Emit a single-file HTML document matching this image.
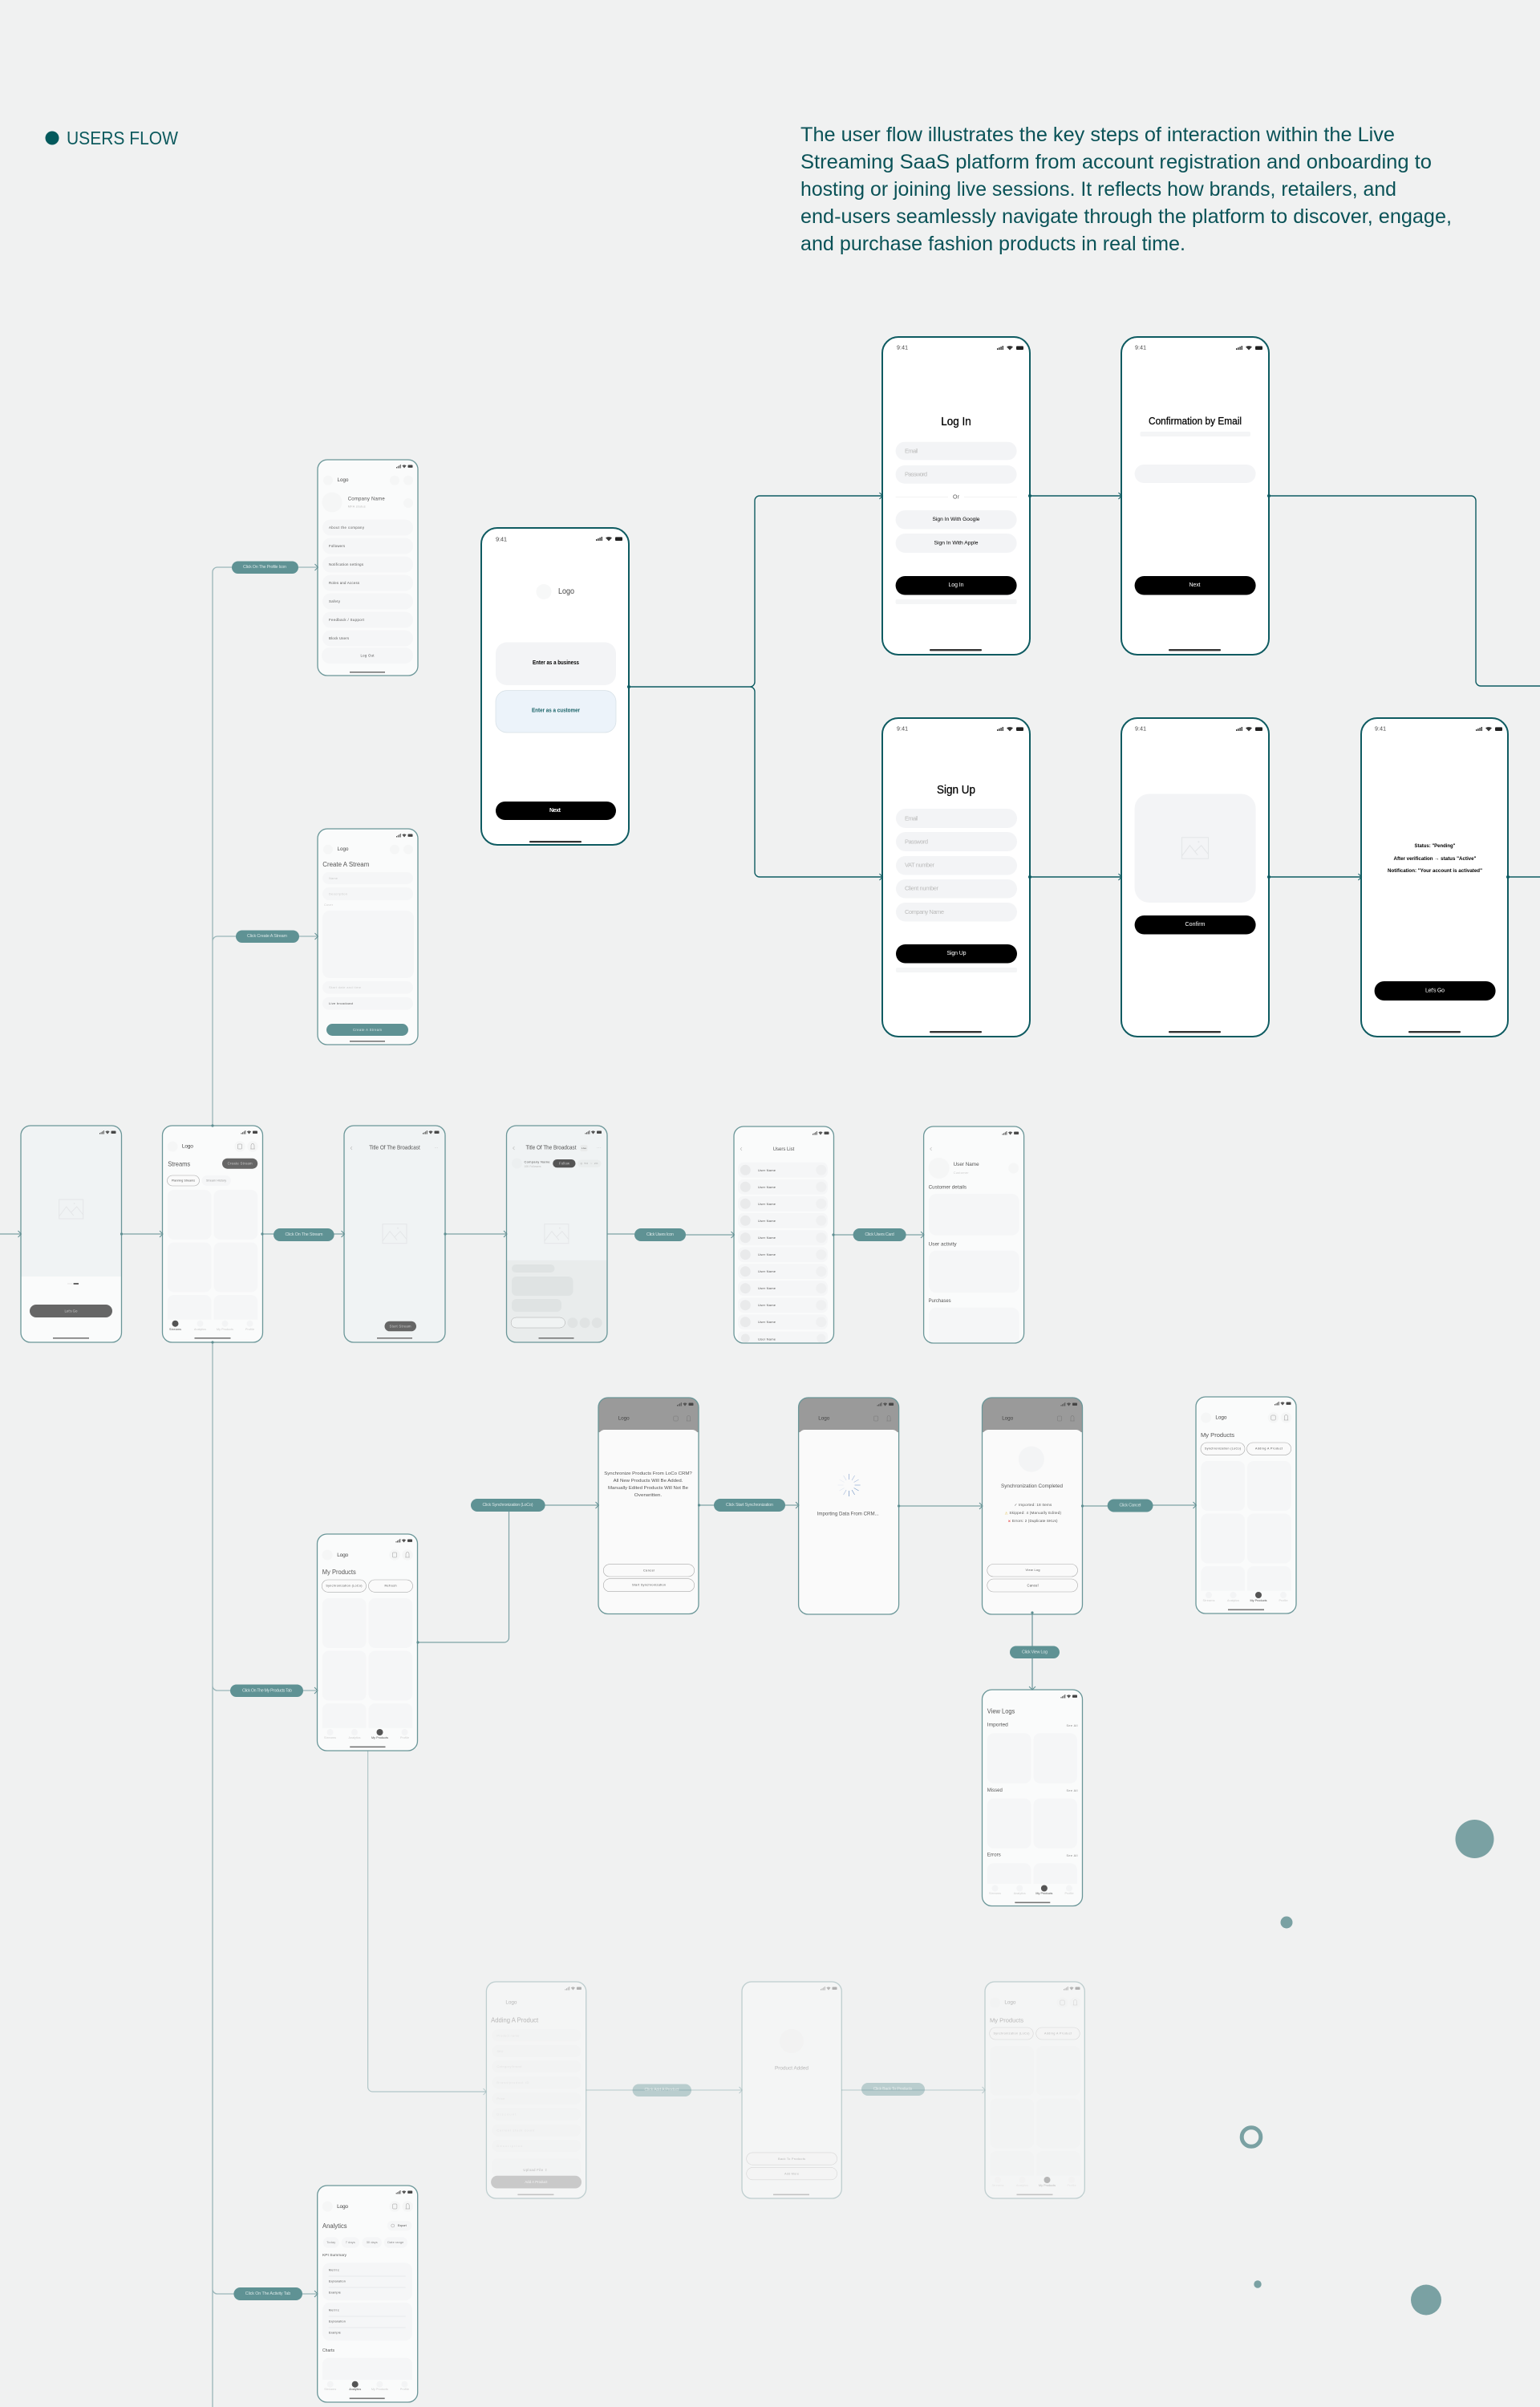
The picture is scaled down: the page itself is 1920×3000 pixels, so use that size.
<!DOCTYPE html>
<html lang="en"><head><meta charset="utf-8"><title>Users Flow</title>
<style>
html,body{margin:0;padding:0;background:#f0f1f1}
svg{display:block}
text{font-family:"Liberation Sans","DejaVu Sans",sans-serif;dominant-baseline:central;fill:#555}
.b{fill:#000}.w{fill:#fff}.p{fill:#d8e6e6}.l{fill:#bbb}.ll{fill:#ccc}.d{fill:#444}
.m{text-anchor:middle}
.c{fill:#f5f6f7}
.fr{fill:#fafbfb}
.st{fill:none;stroke:#6a9698;stroke-width:1.3}
.big{fill:none;stroke:#0e5b61;stroke-width:2}
.bf{fill:#fff}
.o{fill:#fafafa;stroke:#a9a9a9;stroke-width:.6}
.main{fill:none;stroke:#0e5c62;stroke-width:1.4}
.mu{fill:none;stroke:#7da2a5;stroke-width:1.2}
.pl{fill:#5f9294}
.chev{fill:none;stroke:#0e5c62;stroke-width:1}
.chm{fill:none;stroke:#5f8f92;stroke-width:1}
.hv{stroke:#000;stroke-width:.25}
</style></head>
<body>
<svg xmlns="http://www.w3.org/2000/svg" width="1920" height="3000" viewBox="0 0 1920 3000">
<defs>
<g id="sb"><rect x="0" y="3" width="1" height="1.5" fill="#555"/><rect x="1.6" y="2.2" width="1" height="2.3" fill="#555"/><rect x="3.2" y="1.2" width="1" height="3.3" fill="#555"/><rect x="4.8" y="0" width="1" height="4.5" fill="#555"/><path d="M7.4 1.4Q10 -.6 12.6 1.4L10 4.5Z" fill="#555"/><rect x="14.5" y=".5" width="6" height="3.4" rx=".8" fill="#444"/></g>
<g id="sbb"><rect x="0" y="3" width="1.4" height="2" fill="#333"/><rect x="2.2" y="2" width="1.4" height="3" fill="#333"/><rect x="4.4" y="1" width="1.4" height="4" fill="#333"/><rect x="6.6" y="0" width="1.4" height="5" fill="#333"/><path d="M12 1.2Q16 -1 20 1.2L16 5.4Z" fill="#333"/><rect x="24" y=".4" width="9" height="4.6" rx="1" fill="#222"/></g>
<g id="img"><rect x="-15" y="-12" width="30" height="24" fill="none" stroke="#e4e6e8" stroke-width="1"/><path d="M-15 9L-6 -3L3 8M0 4L7 -3L15 7" fill="none" stroke="#e4e6e8" stroke-width="1"/><circle cx="4" cy="-7" r=".9" fill="#e4e6e8"/></g>
<g id="hdr"><circle cx="12.6" cy="26" r="6.5" fill="#f5f6f6"/><circle cx="96.5" cy="26" r="6.8" fill="#f5f6f6"/><circle cx="112.5" cy="26" r="6.8" fill="#f5f6f6"/><rect x="93.8" y="23" width="5.4" height="6" rx="1" fill="none" stroke="#999" stroke-width=".5"/><path d="M109.8 29H115.2M110.5 29V24.5A2 2 0 0 1 114.5 24.5V29" fill="none" stroke="#999" stroke-width=".5"/></g>
<g id="hdd"><rect x="93.8" y="23" width="5.4" height="6" rx="1" fill="none" stroke="#777" stroke-width=".5"/><path d="M109.8 29H115.2M110.5 29V24.5A2 2 0 0 1 114.5 24.5V29" fill="none" stroke="#777" stroke-width=".5"/></g>
<g id="grid"><rect class="c" x="6.3" y="80" width="54.7" height="62" rx="8"/><rect class="c" x="64" y="80" width="54.7" height="62" rx="8"/><rect class="c" x="6.3" y="145.5" width="54.7" height="62" rx="8"/><rect class="c" x="64" y="145.5" width="54.7" height="62" rx="8"/><rect class="c" x="6.3" y="211" width="54.7" height="40" rx="8"/><rect class="c" x="64" y="211" width="54.7" height="40" rx="8"/><rect x="1" y="241.7" width="123" height="25" fill="#fafbfb"/></g>
<path id="dimt" d="M0 43V12A12 12 0 0 1 12 0H113A12 12 0 0 1 125 12V43Z" fill="#9a9a9a"/>
<path id="sheet" d="M0 48A8 8 0 0 1 8 40H117A8 8 0 0 1 125 48V258A12 12 0 0 1 113 270H12A12 12 0 0 1 0 258Z" fill="#fafafa"/>
<g id="spin"><line x1="0" y1="-7" x2="0" y2="-14" stroke="#8fa8d0" stroke-width=".7"/><line x1="3.5" y1="-6" x2="7" y2="-12" stroke="#a8bcdc" stroke-width=".7"/><line x1="6" y1="-3.5" x2="12" y2="-7" stroke="#a8bcdc" stroke-width=".7"/><line x1="7" y1="0" x2="14" y2="0" stroke="#8fa8d0" stroke-width=".7"/><line x1="6" y1="3.5" x2="12" y2="7" stroke="#7c9cc8" stroke-width=".7"/><line x1="3.5" y1="6" x2="7" y2="12" stroke="#7c9cc8" stroke-width=".7"/><line x1="0" y1="7" x2="0" y2="14" stroke="#6f8fc0" stroke-width=".7"/><line x1="-3.5" y1="6" x2="-7" y2="12" stroke="#a8bcdc" stroke-width=".7"/><line x1="-6" y1="3.5" x2="-12" y2="7" stroke="#dce4f0" stroke-width=".7"/><line x1="-7" y1="0" x2="-14" y2="0" stroke="#e6ebf3" stroke-width=".7"/><line x1="-6" y1="-3.5" x2="-12" y2="-7" stroke="#e6ebf3" stroke-width=".7"/><line x1="-3.5" y1="-6" x2="-7" y2="-12" stroke="#d0dbec" stroke-width=".7"/></g>
<path id="ah" class="chev" d="M-4 -4L0 0L-4 4"/>
<path id="am" class="chm" d="M-4 -4L0 0L-4 4"/>
</defs>

<rect width="1920" height="3000" fill="#f0f1f1"/>

<!-- heading -->
<circle cx="65" cy="172" r="8.5" fill="#03595c"/>
<text x="83" y="172" font-size="23" textLength="139" lengthAdjust="spacingAndGlyphs" style="fill:#0d5a5e">USERS FLOW</text>
<g font-size="25" style="font-weight:400">
<text x="998" y="168" textLength="741" lengthAdjust="spacingAndGlyphs" style="fill:#0a5257">The user flow illustrates the key steps of interaction within the Live</text>
<text x="998" y="202" textLength="787" lengthAdjust="spacingAndGlyphs" style="fill:#0a5257">Streaming SaaS platform from account registration and onboarding to</text>
<text x="998" y="236" textLength="743" lengthAdjust="spacingAndGlyphs" style="fill:#0a5257">hosting or joining live sessions. It reflects how brands, retailers, and</text>
<text x="998" y="270" textLength="812" lengthAdjust="spacingAndGlyphs" style="fill:#0a5257">end-users seamlessly navigate through the platform to discover, engage,</text>
<text x="998" y="304" textLength="480" lengthAdjust="spacingAndGlyphs" style="fill:#0a5257">and purchase fashion products in real time.</text>
</g>

<!-- decorative -->
<g fill="#7aa1a3">
<circle cx="1838.5" cy="2292" r="24"/><circle cx="1604" cy="2396" r="7.5"/><circle cx="1568" cy="2847" r="4.7"/><circle cx="1778" cy="2866.5" r="19"/>
</g>
<circle cx="1560" cy="2663.5" r="11.8" fill="none" stroke="#7aa1a3" stroke-width="5"/>

<!-- main connectors -->
<path class="main" d="M784 856H935a6 6 0 0 0 6-6V624a6 6 0 0 1 6-6H1100M935 856a6 6 0 0 1 6 6V1087a6 6 0 0 0 6 6H1100M1284 618H1398M1582 618H1834a6 6 0 0 1 6 6V849a6 6 0 0 0 6 6H1920M1284 1093H1398M1582 1093H1697M1880 1093H1920"/>

<!-- muted connectors -->
<path class="mu" d="M0 1538H26M151.5 1538H202.5M327.5 1538H429M555 1538H631.5M757 1538H791M855 1539H915M1039 1539H1151.6M520.6 2047H628.5a6 6 0 0 0 6-6V1876M679 1876H746M871.5 1876H995.6M1120.6 1877H1224.5M1349.5 1877H1381M1437 1876H1491"/>
<path fill="none" stroke="#9ab6b9" stroke-width="1.3" d="M265 1403V713a6 6 0 0 1 6-6H396M265 1173a6 6 0 0 1 6-6H396M265 1673V3000M265 2101a6 6 0 0 0 6 6H396M265 2853a6 6 0 0 0 6 6H396"/>
<path fill="none" stroke="#9ab6b9" stroke-width="1.9" d="M1287 2010V2106"/>
<path class="mu" opacity=".55" d="M458.6 2182V2601a6 6 0 0 0 6 6H606"/>
<path class="mu" opacity=".4" d="M730.7 2605H925M1049 2605H1228"/>

<!-- Big phone: business/customer -->
<g transform="translate(600,658)">
<rect class="bf" width="184" height="395" rx="20"/>
<text x="18" y="14" font-size="7.5" textLength="14" class="d">9:41</text><use href="#sbb" x="143" y="11"/>
<circle cx="78" cy="79.5" r="9.5" fill="#f7f8f8"/>
<text x="96" y="79.5" font-size="10" textLength="20" lengthAdjust="spacingAndGlyphs" class="d">Logo</text>
<rect x="18" y="142.5" width="150" height="53.5" rx="14" fill="#f3f4f6"/>
<text class="m b" x="93" y="168.7" font-size="7" font-weight="700" textLength="58" lengthAdjust="spacingAndGlyphs">Enter as a business</text>
<rect x="18" y="202.6" width="150" height="52.4" rx="14" fill="#ecf3fa" stroke="#d5dfe5" stroke-width=".7"/>
<text class="m" x="93" y="228" font-size="7" font-weight="700" textLength="60" lengthAdjust="spacingAndGlyphs" style="fill:#1a6368">Enter as a customer</text>
<rect x="18" y="341" width="150" height="23" rx="11.5" fill="#000"/>
<text class="m w" x="92" y="352.5" font-size="7" font-weight="700" textLength="14">Next</text>
<rect x="60" y="390" width="65" height="2.2" rx="1" fill="#333"/>
<rect class="big" width="184" height="395" rx="20"/>
</g>

<!-- Log In -->
<g transform="translate(1100,420)">
<rect class="bf" width="184" height="396" rx="20"/>
<text x="18" y="14" font-size="7" textLength="14" class="d">9:41</text><use href="#sbb" x="143" y="11"/>
<text class="m b hv" x="92" y="106" font-size="14.5" textLength="37.5" lengthAdjust="spacingAndGlyphs">Log In</text>
<rect x="16.6" y="130.7" width="151" height="22.7" rx="11.3" fill="#f3f4f6"/><text class="l" x="28" y="142" font-size="7.5" textLength="16">Email</text>
<rect x="16.6" y="160" width="151" height="22.7" rx="11.3" fill="#f3f4f6"/><text class="l" x="28" y="171" font-size="7.5" textLength="28">Password</text>
<path d="M16.6 199.5H82M102 199.5H168" stroke="#eeeeee" stroke-width=".8"/>
<text class="m" x="92" y="200" font-size="7" textLength="8">Or</text>
<rect x="16.6" y="216" width="151" height="23.5" rx="11.7" fill="#f3f4f6"/><text class="m b" x="92" y="227.5" font-size="6.8" textLength="59" lengthAdjust="spacingAndGlyphs">Sign In With Google</text>
<rect x="16.6" y="245" width="151" height="24" rx="12" fill="#f3f4f6"/><text class="m b" x="92" y="257" font-size="6.8" textLength="55" lengthAdjust="spacingAndGlyphs">Sign In With Apple</text>
<rect x="16.6" y="298" width="151" height="23.5" rx="11.7" fill="#000"/><text class="m w" x="92" y="309.5" font-size="7" textLength="19">Log In</text>
<rect x="16.6" y="327" width="151" height="6" rx="2" fill="#f4f5f6"/>
<rect x="59" y="389" width="65" height="2.4" rx="1" fill="#333"/>
<rect class="big" width="184" height="396" rx="20"/>
</g>

<!-- Confirmation -->
<g transform="translate(1398,420)">
<rect class="bf" width="184" height="396" rx="20"/>
<text x="17" y="14" font-size="7" textLength="14" class="d">9:41</text><use href="#sbb" x="143" y="11"/>
<text class="m b hv" x="92" y="105" font-size="12.5" textLength="116" lengthAdjust="spacingAndGlyphs">Confirmation by Email</text>
<rect x="23.5" y="118" width="137.5" height="6" rx="2" fill="#f4f5f6"/>
<rect x="16.6" y="159" width="151" height="23" rx="11.5" fill="#f3f4f6"/>
<rect x="16.6" y="298" width="151" height="23.5" rx="11.7" fill="#000"/><text class="m w" x="91.5" y="309.5" font-size="7" textLength="14">Next</text>
<rect x="59" y="389" width="65" height="2.4" rx="1" fill="#333"/>
<rect class="big" width="184" height="396" rx="20"/>
</g>

<!-- Sign Up -->
<g transform="translate(1100,895)">
<rect class="bf" width="184" height="397" rx="20"/>
<text x="18" y="14" font-size="7" textLength="14" class="d">9:41</text><use href="#sbb" x="143" y="11"/>
<text class="m b hv" x="92" y="90" font-size="14.5" textLength="48" lengthAdjust="spacingAndGlyphs">Sign Up</text>
<rect x="17" y="113" width="151" height="24" rx="12" fill="#f3f4f6"/><text class="l" x="28" y="125" font-size="7.5" textLength="16">Email</text>
<rect x="17" y="142" width="151" height="24" rx="12" fill="#f3f4f6"/><text class="l" x="28" y="154" font-size="7.5" textLength="29">Password</text>
<rect x="17" y="172" width="151" height="23.5" rx="11.7" fill="#f3f4f6"/><text class="l" x="28" y="183" font-size="7.5" textLength="37">VAT number</text>
<rect x="17" y="201" width="151" height="23.5" rx="11.7" fill="#f3f4f6"/><text class="l" x="28" y="212" font-size="7.5" textLength="42">Client number</text>
<rect x="17" y="230" width="151" height="23.5" rx="11.7" fill="#f3f4f6"/><text class="l" x="28" y="241.5" font-size="7.5" textLength="49">Company Name</text>
<rect x="17" y="282" width="151" height="23.5" rx="11.7" fill="#000"/><text class="m w" x="92.5" y="293.5" font-size="7" textLength="24">Sign Up</text>
<rect x="17" y="311" width="151" height="6" rx="2" fill="#f4f5f6"/>
<rect x="59" y="390" width="65" height="2.4" rx="1" fill="#333"/>
<rect class="big" width="184" height="397" rx="20"/>
</g>

<!-- Confirm -->
<g transform="translate(1398,895)">
<rect class="bf" width="184" height="397" rx="20"/>
<text x="17" y="14" font-size="7" textLength="14" class="d">9:41</text><use href="#sbb" x="143" y="11"/>
<rect x="16.6" y="94.5" width="151" height="135.5" rx="18" fill="#f3f4f6"/>
<use href="#img" transform="translate(92,162) scale(1.1)"/>
<rect x="16.6" y="246" width="151" height="23.5" rx="11.7" fill="#000"/><text class="m w" x="92" y="257.5" font-size="7" textLength="25">Confirm</text>
<rect x="59" y="390" width="65" height="2.4" rx="1" fill="#333"/>
<rect class="big" width="184" height="397" rx="20"/>
</g>

<!-- Status -->
<g transform="translate(1697,895)">
<rect class="bf" width="183" height="397" rx="20"/>
<text x="17" y="14" font-size="7" textLength="14" class="d">9:41</text><use href="#sbb" x="143" y="11"/>
<g font-size="6.4" font-weight="700">
<text class="m b" x="92" y="159.7" textLength="51" lengthAdjust="spacingAndGlyphs">Status: "Pending"</text>
<text class="m b" x="92" y="175.7" textLength="103" lengthAdjust="spacingAndGlyphs">After verification → status "Active"</text>
<text class="m b" x="92" y="190.7" textLength="118" lengthAdjust="spacingAndGlyphs">Notification: "Your account is activated"</text>
</g>
<rect x="16.6" y="328" width="151" height="24" rx="12" fill="#000"/><text class="m w" x="92" y="340" font-size="7" textLength="24">Let's Go</text>
<rect x="59" y="390" width="65" height="2.4" rx="1" fill="#333"/>
<rect class="big" width="183" height="397" rx="20"/>
</g>

<!-- Profile -->
<g transform="translate(396,573)">
<rect class="fr" width="125" height="269" rx="12"/>
<use href="#sb" x="98" y="6"/>
<circle cx="13" cy="25.7" r="6" fill="#f5f6f6"/><circle cx="96" cy="25.7" r="6" fill="#f5f6f6"/><circle cx="113" cy="25.7" r="6" fill="#f5f6f6"/>
<text x="24.5" y="25.7" font-size="6.2" textLength="14" class="d">Logo</text>
<circle cx="18" cy="53" r="12.5" fill="#f5f6f6"/>
<text x="37.7" y="49.5" font-size="6" textLength="46">Company Name</text>
<text class="l" x="37.7" y="58.6" font-size="3.8" textLength="22">MFA status</text>
<circle cx="113" cy="54" r="6" fill="#f5f6f6"/>
<g class="c">
<rect x="6" y="74.5" width="113" height="20" rx="10"/><rect x="6" y="97.5" width="113" height="20" rx="10"/><rect x="6" y="120.5" width="113" height="20" rx="10"/><rect x="6" y="143.5" width="113" height="20" rx="10"/><rect x="6" y="166.5" width="113" height="20" rx="10"/><rect x="6" y="189.5" width="113" height="20" rx="10"/><rect x="6" y="212.5" width="113" height="20" rx="10"/><rect x="5" y="234" width="114" height="20" rx="10"/>
</g>
<g font-size="4.3">
<text x="14" y="84.3" textLength="44">About the company</text>
<text x="14" y="107.6" textLength="20">Followers</text>
<text x="14" y="130.4" textLength="43">Notification settings</text>
<text x="14" y="153.6" textLength="38">Roles and Access</text>
<text x="14" y="176.4" textLength="14">Safety</text>
<text x="14" y="199.7" textLength="44">Feedback / Support</text>
<text x="14" y="222.5" textLength="25">Block Users</text>
<text class="m" x="62" y="244" textLength="17">Log Out</text>
</g>
<rect x="40" y="264" width="44" height="1.6" fill="#777"/>
<rect class="st" width="125" height="269" rx="12"/>
</g>

<!-- Create -->
<g transform="translate(396,1033)">
<rect class="fr" width="125" height="269" rx="12"/>
<use href="#sb" x="98" y="6"/>
<circle cx="13" cy="25.7" r="6" fill="#f5f6f6"/><circle cx="96" cy="25.7" r="6" fill="#f5f6f6"/><circle cx="113" cy="25.7" r="6" fill="#f5f6f6"/>
<text x="24.5" y="25.7" font-size="6.2" textLength="14" class="d">Logo</text>
<text x="6.3" y="44.6" font-size="8" textLength="58" lengthAdjust="spacingAndGlyphs">Create A Stream</text>
<g class="c"><rect x="6" y="54" width="113" height="15" rx="7.5"/><rect x="6" y="73" width="113" height="16" rx="8"/><rect x="6" y="102" width="114" height="84" rx="9"/><rect x="6" y="190" width="113" height="15.5" rx="7.7"/><rect x="6" y="210" width="113" height="15.5" rx="7.7"/></g>
<text class="ll" x="14" y="61.5" font-size="4" textLength="11">Name</text>
<text class="ll" x="14" y="81" font-size="4" textLength="23">Description</text>
<text class="ll" x="8" y="95" font-size="3.8" textLength="11">Cover</text>
<text class="ll" x="14" y="197.7" font-size="4" textLength="40">Start date and time</text>
<text x="14" y="217.7" font-size="4" textLength="30">Live broadcast</text>
<rect class="pl" x="11" y="243" width="102" height="15" rx="7.5"/>
<text class="m p" x="62" y="250.5" font-size="4.2" textLength="36">Create A Stream</text>
<rect x="40" y="264" width="44" height="1.6" fill="#777"/>
<rect class="st" width="125" height="269" rx="12"/>
</g>

<!-- Phone A onboarding -->
<g transform="translate(26,1403)">
<rect class="fr" width="125.5" height="270" rx="12"/>
<path d="M0 188V12A12 12 0 0 1 12 0H113.5A12 12 0 0 1 125.5 12V188Z" fill="#f0f3f4"/>
<use href="#sb" x="98" y="6"/>
<use href="#img" transform="translate(62.7,104)"/>
<rect x="58" y="196" width="6" height="2" fill="#f0f0f0"/><rect x="65.6" y="196" width="6.4" height="2" fill="#666"/>
<rect x="11" y="223" width="103" height="16" rx="8" fill="#666"/>
<text class="m ll" x="62.5" y="231" font-size="4.4" textLength="16">Let's Go</text>
<rect x="40" y="264" width="45" height="1.6" fill="#777"/>
<rect class="st" width="125.5" height="270" rx="12"/>
</g>

<!-- Streams -->
<g transform="translate(202.5,1403)">
<rect class="fr" width="125" height="270" rx="12"/>
<use href="#sb" x="98" y="6"/><use href="#hdr"/>
<text x="24.4" y="26" font-size="6.6" textLength="14" class="d">Logo</text>
<text x="6.7" y="47.7" font-size="8.5" textLength="28" lengthAdjust="spacingAndGlyphs">Streams</text>
<rect x="74.5" y="40.7" width="44.2" height="13" rx="6.5" fill="#666"/>
<text class="m ll" x="96.6" y="47" font-size="4.3" textLength="31">Create Stream</text>
<rect class="o" x="6" y="62" width="40" height="13" rx="6.5"/>
<text class="m" x="26" y="68.5" font-size="3.6" textLength="29">Planning Streams</text>
<rect class="c" x="49" y="62" width="36.4" height="13" rx="6.5"/>
<text class="m" x="67" y="68.5" font-size="3.6" textLength="25" style="fill:#999">Stream History</text>
<use href="#grid"/>
<circle cx="16" cy="246.7" r="4" fill="#555"/><circle cx="47" cy="246.7" r="4" fill="#f3f4f5"/><circle cx="78" cy="246.7" r="4" fill="#f3f4f5"/><circle cx="109" cy="246.7" r="4" fill="#f3f4f5"/>
<g font-size="3.7"><text class="m" x="16" y="254" textLength="15">Streams</text><text class="m ll" x="47" y="254" textLength="15">Analytics</text><text class="m ll" x="78" y="254" textLength="21">My Products</text><text class="m ll" x="109" y="254" textLength="11">Profile</text></g>
<rect x="40" y="264" width="45" height="1.6" fill="#777"/>
<rect class="st" width="125" height="270" rx="12"/>
</g>

<!-- Title Of Broadcast C -->
<g transform="translate(429,1403)">
<rect width="126" height="270" rx="12" fill="#f0f3f4"/>
<use href="#sb" x="98" y="6"/>
<path d="M10 26L8 28L10 30" fill="none" stroke="#bbb" stroke-width=".6"/>
<text class="m" x="63" y="28" font-size="7" textLength="63.5" lengthAdjust="spacingAndGlyphs">Title Of The Broadcast</text>
<text class="m l" x="115" y="28" font-size="5">···</text>
<use href="#img" transform="translate(63,134.7)"/>
<rect x="50.5" y="243.7" width="39.5" height="12.6" rx="6.3" fill="#666"/>
<text class="m ll" x="70" y="250" font-size="4.2" textLength="27">Start Stream</text>
<rect x="41" y="264" width="44" height="1.6" fill="#777"/>
<rect class="st" width="126" height="270" rx="12"/>
</g>

<!-- Title Of Broadcast D -->
<g transform="translate(631.5,1403)">
<rect width="125.5" height="270" rx="12" fill="#f0f3f4"/>
<path d="M0 167.7H125.5V258A12 12 0 0 1 113.5 270H12A12 12 0 0 1 0 258Z" fill="#e9ecec"/>
<use href="#sb" x="98" y="6"/>
<path d="M10 26L8 28L10 30" fill="none" stroke="#bbb" stroke-width=".6"/>
<text x="24" y="28" font-size="7" textLength="63" lengthAdjust="spacingAndGlyphs">Title Of The Broadcast</text>
<rect x="92" y="24" width="9" height="8" rx="2" fill="#e9ebeb"/><text class="m" x="96.5" y="28" font-size="3" textLength="6">Live</text>
<text class="m l" x="115" y="28" font-size="5">···</text>
<circle cx="13" cy="47" r="6.5" fill="#eceff0"/>
<text x="22" y="45" font-size="4" textLength="32">Company Name</text>
<text class="l" x="22" y="51" font-size="3.2" textLength="21">10K Followers</text>
<rect x="57.7" y="42" width="28.3" height="10.3" rx="5.1" fill="#555"/>
<text class="m ll" x="72" y="47.2" font-size="4.2" textLength="13">Follow</text>
<rect x="88.6" y="42.5" width="29.4" height="9.5" rx="4.7" fill="#eaeded"/>
<text x="92" y="47" font-size="3" textLength="22" style="fill:#999">◎ 5K  ♡ 2K</text>
<use href="#img" transform="translate(62.4,134.7)"/>
<rect x="6.5" y="173" width="53.5" height="10" rx="5" fill="#dfe3e3"/>
<rect x="6.5" y="188" width="76.5" height="24" rx="6" fill="#dfe3e3"/>
<rect x="6.5" y="216" width="62" height="16" rx="6" fill="#dfe3e3"/>
<rect x="5.6" y="239" width="67.4" height="13" rx="6.5" fill="#f0f3f3" stroke="#aaa" stroke-width=".5"/>
<circle cx="82.4" cy="245.7" r="6.5" fill="#e0e3e3"/><circle cx="97.6" cy="245.7" r="6.5" fill="#e0e3e3"/><circle cx="112.7" cy="245.7" r="6.5" fill="#e0e3e3"/>
<rect x="40" y="264" width="44" height="1.6" fill="#777"/>
<rect class="st" width="125.5" height="270" rx="12"/>
</g>

<!-- Users List -->
<g transform="translate(915,1404)">
<rect class="fr" width="124.5" height="270" rx="12"/>
<use href="#sb" x="98" y="6"/>
<path d="M10 26L8 28L10 30" fill="none" stroke="#bbb" stroke-width=".6"/>
<text class="m" x="62" y="28.3" font-size="6.5" textLength="26.5" lengthAdjust="spacingAndGlyphs">Users List</text>
<g class="c">
<rect x="5" y="44.8" width="112" height="19" rx="7"/><rect x="5" y="65.8" width="112" height="19" rx="7"/><rect x="5" y="86.8" width="112" height="19" rx="7"/><rect x="5" y="107.8" width="112" height="19" rx="7"/><rect x="5" y="129.2" width="112" height="19" rx="7"/><rect x="5" y="150.2" width="112" height="19" rx="7"/><rect x="5" y="171.2" width="112" height="19" rx="7"/><rect x="5" y="192.2" width="112" height="19" rx="7"/><rect x="5" y="213.2" width="112" height="19" rx="7"/><rect x="5" y="234.2" width="112" height="19" rx="7"/><rect x="5" y="255.5" width="112" height="14" rx="5"/>
</g>
<g fill="#e9eaeb">
<circle cx="14.3" cy="54.3" r="6.5"/><circle cx="14.3" cy="75.3" r="6.5"/><circle cx="14.3" cy="96.3" r="6.5"/><circle cx="14.3" cy="117.3" r="6.5"/><circle cx="14.3" cy="138.7" r="6.5"/><circle cx="14.3" cy="159.7" r="6.5"/><circle cx="14.3" cy="180.7" r="6.5"/><circle cx="14.3" cy="201.7" r="6.5"/><circle cx="14.3" cy="222.7" r="6.5"/><circle cx="14.3" cy="243.7" r="6.5"/><circle cx="14.3" cy="264" r="5.5"/>
</g>
<g fill="#eff0f1">
<circle cx="108.8" cy="54.3" r="6.5"/><circle cx="108.8" cy="75.3" r="6.5"/><circle cx="108.8" cy="96.3" r="6.5"/><circle cx="108.8" cy="117.3" r="6.5"/><circle cx="108.8" cy="138.7" r="6.5"/><circle cx="108.8" cy="159.7" r="6.5"/><circle cx="108.8" cy="180.7" r="6.5"/><circle cx="108.8" cy="201.7" r="6.5"/><circle cx="108.8" cy="222.7" r="6.5"/><circle cx="108.8" cy="243.7" r="6.5"/><circle cx="108.8" cy="264" r="5.5"/>
</g>
<g font-size="4">
<text x="30" y="54.3" textLength="22">User Name</text><text x="30" y="75.3" textLength="22">User Name</text><text x="30" y="96.3" textLength="22">User Name</text><text x="30" y="117.3" textLength="22">User Name</text><text x="30" y="138.7" textLength="22">User Name</text><text x="30" y="159.7" textLength="22">User Name</text><text x="30" y="180.7" textLength="22">User Name</text><text x="30" y="201.7" textLength="22">User Name</text><text x="30" y="222.7" textLength="22">User Name</text><text x="30" y="243.7" textLength="22">User Name</text><text x="30" y="265" textLength="22">User Name</text>
</g>
<rect class="st" width="124.5" height="270" rx="12"/>
</g>

<!-- User details -->
<g transform="translate(1151.6,1404)">
<rect class="fr" width="125" height="270" rx="12"/>
<use href="#sb" x="98" y="6"/>
<path d="M10 26L8 28L10 30" fill="none" stroke="#bbb" stroke-width=".6"/>
<circle cx="19" cy="52" r="13" fill="#f5f6f6"/>
<text x="37" y="48" font-size="6" textLength="32" lengthAdjust="spacingAndGlyphs">User Name</text>
<text class="ll" x="37" y="57.7" font-size="4" textLength="19">Customer</text>
<circle cx="112" cy="52" r="6.5" fill="#f5f6f6"/>
<text x="6" y="76.3" font-size="6" textLength="47.5" lengthAdjust="spacingAndGlyphs">Customer details</text>
<rect class="c" x="6.5" y="84" width="112.5" height="51.7" rx="9"/>
<text x="6" y="147.3" font-size="6" textLength="35" lengthAdjust="spacingAndGlyphs">User activity</text>
<rect class="c" x="6.5" y="154.7" width="112.5" height="52.6" rx="9"/>
<text x="6" y="218" font-size="6" textLength="28" lengthAdjust="spacingAndGlyphs">Purchases</text>
<path class="c" d="M6.5 234.7A9 9 0 0 1 15.5 225.7H110A9 9 0 0 1 119 234.7V269H6.5Z"/>
<rect class="st" width="125" height="270" rx="12"/>
</g>

<!-- Sync question -->
<g transform="translate(746,1742)">
<use href="#dimt"/><use href="#sheet"/>
<use href="#sb" x="98" y="6"/><use href="#hdd"/>
<text x="24.7" y="26" font-size="6.4" textLength="14" class="d">Logo</text>
<g font-size="5.5">
<text class="m" x="62" y="95" textLength="109.5" lengthAdjust="spacingAndGlyphs">Synchronize Products From LoCo CRM?</text>
<text class="m" x="62" y="104" textLength="86.8" lengthAdjust="spacingAndGlyphs">All New Products Will Be Added.</text>
<text class="m" x="62" y="113" textLength="100" lengthAdjust="spacingAndGlyphs">Manually Edited Products Will Not Be</text>
<text class="m" x="62" y="122" textLength="34.4" lengthAdjust="spacingAndGlyphs">Overwritten.</text>
</g>
<rect class="o" x="6.3" y="207.7" width="113.4" height="15.3" rx="7.6"/><text class="m" x="63" y="215.4" font-size="3.8" textLength="14">Cancel</text>
<rect class="o" x="6.3" y="225.7" width="113.4" height="16" rx="8"/><text class="m" x="63" y="233.7" font-size="3.8" textLength="42">Start Synchronization</text>
<rect class="st" width="125" height="269.5" rx="12"/>
</g>

<!-- Importing -->
<g transform="translate(995.6,1742)">
<use href="#dimt"/><use href="#sheet"/>
<use href="#sb" x="98" y="6"/><use href="#hdd"/>
<text x="24.7" y="26" font-size="6.4" textLength="14" class="d">Logo</text>
<use href="#spin" x="63" y="109"/>
<text class="m" x="61.6" y="145.7" font-size="6" textLength="77" lengthAdjust="spacingAndGlyphs">Importing Data From CRM...</text>
<rect class="st" width="125" height="270" rx="12"/>
</g>

<!-- Completed -->
<g transform="translate(1224.5,1742)">
<use href="#dimt"/><use href="#sheet"/>
<use href="#sb" x="98" y="6"/><use href="#hdd"/>
<text x="24.7" y="26" font-size="6.4" textLength="14" class="d">Logo</text>
<circle cx="61.4" cy="76.6" r="16" fill="#f3f4f5"/>
<text class="m" x="62" y="110.7" font-size="6.2" textLength="77" lengthAdjust="spacingAndGlyphs">Synchronization Completed</text>
<text x="40" y="133.4" font-size="4.5" textLength="46.7">✓ Imported: 18 Items</text>
<text x="28" y="143.5" font-size="4.5" textLength="70.5"><tspan style="fill:#e0b020">⚠</tspan> Skipped: 4 (Manually Edited)</text>
<text x="32" y="153.6" font-size="4.5" textLength="62"><tspan style="fill:#e02020;font-weight:700">✕</tspan> Errors: 2 (Duplicate SKUs)</text>
<rect class="o" x="6.3" y="207.5" width="112.7" height="15.5" rx="7.7"/><text class="m" x="63" y="215.2" font-size="3.8" textLength="18">View Log</text>
<rect class="o" x="6.3" y="226" width="112.7" height="16" rx="8"/><text class="m" x="63" y="234" font-size="4.2" textLength="14">Cancel</text>
<rect class="st" width="125" height="270" rx="12"/>
</g>

<!-- My Products right -->
<g transform="translate(1491,1741)">
<rect class="fr" width="125" height="270" rx="12"/>
<use href="#sb" x="98" y="6"/><use href="#hdr"/>
<text x="24.4" y="26" font-size="6.4" textLength="14" class="d">Logo</text>
<text x="6" y="47.7" font-size="7.5" textLength="42" lengthAdjust="spacingAndGlyphs">My Products</text>
<rect class="o" x="6" y="57" width="55" height="15.4" rx="7.7"/><text class="m" x="33.5" y="64.7" font-size="3.6" textLength="45">Synchronization (LoCo)</text>
<rect class="o" x="63.5" y="57" width="55.2" height="15.4" rx="7.7"/><text class="m" x="91" y="64.7" font-size="3.6" textLength="34">Adding A Product</text>
<use href="#grid"/>
<circle cx="16" cy="247" r="4" fill="#f3f4f5"/><circle cx="46.5" cy="247" r="4" fill="#f3f4f5"/><circle cx="78" cy="247" r="4" fill="#555"/><circle cx="109" cy="247" r="4" fill="#f3f4f5"/>
<g font-size="3.7"><text class="m ll" x="16" y="254" textLength="15">Streams</text><text class="m ll" x="46.5" y="254" textLength="15">Analytics</text><text class="m" x="78" y="254" textLength="21">My Products</text><text class="m ll" x="109" y="254" textLength="11">Profile</text></g>
<rect x="40" y="264.5" width="45" height="1.6" fill="#777"/>
<rect class="st" width="125" height="270" rx="12"/>
</g>

<!-- View Logs -->
<g transform="translate(1224.5,2106)">
<rect class="fr" width="125" height="269.5" rx="12"/>
<use href="#sb" x="98" y="6"/>
<text x="6.3" y="27" font-size="8" textLength="34.5" lengthAdjust="spacingAndGlyphs">View Logs</text>
<text x="6.3" y="44.6" font-size="6" textLength="26" lengthAdjust="spacingAndGlyphs">Imported</text><text x="105" y="45" font-size="3.8" textLength="14" style="fill:#888">See All</text>
<rect class="c" x="6.3" y="54.3" width="54.7" height="62.3" rx="8"/><rect class="c" x="64" y="54.3" width="54.3" height="62.3" rx="8"/>
<text x="6.3" y="125.8" font-size="6" textLength="19" lengthAdjust="spacingAndGlyphs">Missed</text><text x="105" y="126" font-size="3.8" textLength="14" style="fill:#888">See All</text>
<rect class="c" x="6.3" y="135.5" width="54.7" height="62.3" rx="8"/><rect class="c" x="64" y="135.5" width="54.3" height="62.3" rx="8"/>
<text x="6.3" y="206.6" font-size="6" textLength="17" lengthAdjust="spacingAndGlyphs">Errors</text><text x="105" y="207" font-size="3.8" textLength="14" style="fill:#888">See All</text>
<path class="c" d="M6.3 224A8 8 0 0 1 14.3 216.3H53A8 8 0 0 1 61 224V242H6.3Z"/><path class="c" d="M64 224A8 8 0 0 1 72 216.3H110A8 8 0 0 1 118.3 224V242H64Z"/>
<circle cx="16" cy="247.5" r="4" fill="#f3f4f5"/><circle cx="46.7" cy="247.5" r="4" fill="#f3f4f5"/><circle cx="77.4" cy="247.5" r="4" fill="#555"/><circle cx="108.5" cy="247.5" r="4" fill="#f3f4f5"/>
<g font-size="3.7"><text class="m ll" x="16" y="254" textLength="15">Streams</text><text class="m ll" x="46.7" y="254" textLength="15">Analytics</text><text class="m" x="77.4" y="254" textLength="21">My Products</text><text class="m ll" x="108.5" y="254" textLength="11">Profile</text></g>
<rect x="40.8" y="264.5" width="44" height="1.6" fill="#777"/>
<rect class="st" width="125" height="269.5" rx="12"/>
</g>

<!-- My Products left -->
<g transform="translate(395.5,1912)">
<rect class="fr" width="125" height="270" rx="12"/>
<use href="#sb" x="98" y="6"/><use href="#hdr"/>
<text x="24.7" y="26.3" font-size="6.6" textLength="14" class="d">Logo</text>
<text x="6.3" y="47.7" font-size="8" textLength="42" lengthAdjust="spacingAndGlyphs">My Products</text>
<rect class="o" x="5.8" y="57" width="55.2" height="15.3" rx="7.6"/><text class="m" x="33.4" y="64.7" font-size="3.6" textLength="45">Synchronization (LoCo)</text>
<rect class="o" x="64" y="57" width="55" height="15.3" rx="7.6"/><text class="m" x="91.5" y="64.7" font-size="3.6" textLength="15">Refresh</text>
<use href="#grid"/>
<circle cx="16" cy="247" r="4" fill="#f3f4f5"/><circle cx="46.5" cy="247" r="4" fill="#f3f4f5"/><circle cx="78" cy="247" r="4" fill="#555"/><circle cx="109" cy="247" r="4" fill="#f3f4f5"/>
<g font-size="3.7"><text class="m ll" x="16" y="254" textLength="15">Streams</text><text class="m ll" x="46.5" y="254" textLength="15">Analytics</text><text class="m" x="78" y="254" textLength="21">My Products</text><text class="m ll" x="109" y="254" textLength="11">Profile</text></g>
<rect x="40.7" y="264.5" width="44.3" height="1.6" fill="#777"/>
<rect class="st" width="125" height="270" rx="12"/>
</g>

<!-- Analytics -->
<g transform="translate(395.7,2724)">
<rect class="fr" width="125" height="270" rx="12"/>
<use href="#sb" x="98" y="6"/><use href="#hdr"/>
<text x="24.4" y="26.3" font-size="6.6" textLength="14" class="d">Logo</text>
<text x="6.3" y="50.7" font-size="8" textLength="30.6" lengthAdjust="spacingAndGlyphs">Analytics</text>
<rect class="c" x="87" y="43.7" width="30.7" height="12.6" rx="6.3"/>
<circle cx="94" cy="50" r="2" fill="none" stroke="#888" stroke-width=".4"/>
<text x="100" y="49.7" font-size="4" textLength="11">Export</text>
<rect class="c" x="7" y="64.2" width="20" height="13.6" rx="6.8"/><rect class="c" x="30" y="64.2" width="22.3" height="13.6" rx="6.8"/><rect class="c" x="55.7" y="64.2" width="24.6" height="13.6" rx="6.8"/><rect class="c" x="83" y="64.2" width="29.3" height="13.6" rx="6.8"/>
<g font-size="3.8"><text class="m" x="17" y="71" textLength="11" style="fill:#888">Today</text><text class="m" x="41" y="71" textLength="12" style="fill:#888">7 days</text><text class="m" x="68" y="71" textLength="14" style="fill:#888">30 days</text><text class="m" x="97.6" y="71" textLength="20" style="fill:#888">Date range</text></g>
<text x="6.3" y="87.3" font-size="4.8" textLength="30">KPI Summary</text>
<rect class="c" x="6.3" y="96.3" width="112" height="47" rx="9"/><rect class="c" x="6.3" y="145.7" width="112" height="47.6" rx="9"/>
<path d="M14 113H110M14 127H110M14 163H110M14 177H110" stroke="#dcdfe0" stroke-width=".5"/>
<g font-size="3.6"><text x="14" y="105.7" textLength="13">Metric</text><text x="14" y="119.7" textLength="21">Explanation</text><text x="14" y="133.3" textLength="15">Example</text><text x="14" y="155.7" textLength="13">Metric</text><text x="14" y="169.7" textLength="21">Explanation</text><text x="14" y="183.3" textLength="15">Example</text></g>
<text x="6.3" y="206" font-size="5" textLength="15">Charts</text>
<path class="c" d="M6.3 222A8 8 0 0 1 14 214.7H110A8 8 0 0 1 118.3 222V242H6.3Z"/>
<circle cx="16" cy="247.7" r="4" fill="#f3f4f5"/><circle cx="47" cy="247.7" r="4" fill="#555"/><circle cx="77.7" cy="247.7" r="4" fill="#f3f4f5"/><circle cx="108.7" cy="247.7" r="4" fill="#f3f4f5"/>
<g font-size="3.7"><text class="m ll" x="16" y="254" textLength="15">Streams</text><text class="m" x="47" y="254" textLength="15">Analytics</text><text class="m ll" x="77.7" y="254" textLength="21">My Products</text><text class="m ll" x="108.7" y="254" textLength="11">Profile</text></g>
<rect x="40" y="264.5" width="44" height="1.6" fill="#777"/>
<rect class="st" width="125" height="270" rx="12"/>
</g>

<!-- Faded: Adding A Product -->
<g opacity=".38">
<g transform="translate(606.4,2470)">
<rect class="fr" width="124.3" height="270" rx="12"/>
<use href="#sb" x="98" y="6"/>
<text x="24" y="26" font-size="6.4" textLength="14">Logo</text>
<text x="5.7" y="47.9" font-size="8" textLength="59" lengthAdjust="spacingAndGlyphs">Adding A Product</text>
<g class="c"><rect x="7" y="59.3" width="111" height="15" rx="7.5"/><rect x="7" y="79" width="111" height="15" rx="7.5"/><rect x="7" y="98.2" width="111" height="15" rx="7.5"/><rect x="7" y="118.2" width="111" height="15" rx="7.5"/><rect x="7" y="138" width="111" height="15" rx="7.5"/><rect x="7" y="157.5" width="111" height="15" rx="7.5"/><rect x="7" y="177.5" width="111" height="15" rx="7.5"/><rect x="7" y="197" width="111" height="15" rx="7.5"/><rect x="7" y="220" width="111" height="22" rx="7"/></g>
<g font-size="4" class="l"><text class="ll" x="13" y="66.8" textLength="28">Product name</text><text class="ll" x="13" y="86.4" textLength="8">SKU</text><text class="ll" x="13" y="105.7" textLength="31">Category/brand</text><text class="ll" x="13" y="125.7" textLength="40">Brand/product ID</text><text class="ll" x="13" y="145.4" textLength="10">Price</text><text class="ll" x="13" y="165" textLength="24">Discount</text><text class="ll" x="13" y="185" textLength="47">Current stock count</text><text class="ll" x="13" y="204.6" textLength="32">Description</text></g>
<text class="m" x="61" y="234.6" font-size="4.2" textLength="30">Upload File ⇧</text>
<rect x="5.7" y="241.8" width="112.9" height="15.7" rx="7.8" fill="#888"/>
<text class="m w" x="62" y="249.6" font-size="4.2" textLength="28">Add A Product</text>
<rect x="39" y="264.5" width="45" height="1.6" fill="#777"/>
<rect class="st" width="124.3" height="270" rx="12"/>
</g>
<g transform="translate(925,2470)">
<rect class="fr" width="124.3" height="270" rx="12"/>
<use href="#sb" x="98" y="6"/>
<circle cx="62" cy="74" r="15" fill="#f3f4f5"/>
<text class="m" x="62" y="108" font-size="6.5" textLength="42" lengthAdjust="spacingAndGlyphs">Product Added</text>
<rect class="o" x="5.7" y="212.9" width="112.9" height="15.3" rx="7.6"/><text class="m" x="62" y="220.6" font-size="3.9" textLength="34">Back To Products</text>
<rect class="o" x="5.7" y="231.4" width="112.9" height="15.4" rx="7.7"/><text class="m" x="62" y="239" font-size="3.9" textLength="18">Add More</text>
<rect x="39" y="264.5" width="45" height="1.6" fill="#777"/>
<rect class="st" width="124.3" height="270" rx="12"/>
</g>
<g transform="translate(1228,2470)">
<rect class="fr" width="124.3" height="270" rx="12"/>
<use href="#sb" x="98" y="6"/><use href="#hdr"/>
<text x="24.4" y="26" font-size="6.4" textLength="14">Logo</text>
<text x="6" y="47.9" font-size="7.6" textLength="42" lengthAdjust="spacingAndGlyphs">My Products</text>
<rect class="o" x="5.7" y="57" width="54.5" height="15" rx="7.5"/><text class="m" x="33" y="64.5" font-size="3.6" textLength="45">Synchronization (LoCo)</text>
<rect class="o" x="63.7" y="57" width="54.5" height="15" rx="7.5"/><text class="m" x="91" y="64.5" font-size="3.6" textLength="34">Adding A Product</text>
<use href="#grid"/>
<circle cx="16" cy="247" r="4" fill="#f3f4f5"/><circle cx="46.5" cy="247" r="4" fill="#f3f4f5"/><circle cx="77.5" cy="247" r="4" fill="#555"/><circle cx="108" cy="247" r="4" fill="#f3f4f5"/>
<g font-size="3.7"><text class="m ll" x="16" y="254" textLength="15">Streams</text><text class="m ll" x="46.5" y="254" textLength="15">Analytics</text><text class="m" x="77.5" y="254" textLength="21">My Products</text><text class="m ll" x="108" y="254" textLength="11">Profile</text></g>
<rect x="39.5" y="264.5" width="45" height="1.6" fill="#777"/>
<rect class="st" width="124.3" height="270" rx="12"/>
</g>
<rect class="pl" x="788.6" y="2597.5" width="73.4" height="15.5" rx="7.7"/><text class="m p" x="825" y="2605.2" font-size="5.3" textLength="43">Click Add A Product</text>
<rect class="pl" x="1074" y="2596" width="79" height="16" rx="8"/><text class="m p" x="1113" y="2604" font-size="5.3" textLength="48.6">Click Back To Products</text>
<use href="#am" x="925.5" y="2605"/><use href="#am" x="1228.5" y="2605"/><use href="#am" x="606.5" y="2607"/>
</g>

<!-- Pills -->
<g font-size="5.4">
<rect class="pl" x="289" y="699.5" width="83" height="15.5" rx="7.7"/><text class="m p" x="330" y="707.2" textLength="54">Click On The Profile Icon</text>
<rect class="pl" x="294" y="1159.5" width="79" height="15.5" rx="7.7"/><text class="m p" x="333" y="1167.2" textLength="50">Click Create A Stream</text>
<rect class="pl" x="341" y="1531" width="75.6" height="16" rx="8"/><text class="m p" x="379" y="1539" textLength="47">Click On The Stream</text>
<rect class="pl" x="791" y="1531" width="64" height="16" rx="8"/><text class="m p" x="823" y="1539" textLength="34">Click Users Icon</text>
<rect class="pl" x="1063.6" y="1531" width="66" height="16" rx="8"/><text class="m p" x="1096.6" y="1539" textLength="36.4">Click Users Card</text>
<rect class="pl" x="587" y="1868" width="92.6" height="16" rx="8"/><text class="m p" x="633" y="1876" textLength="63">Click Synchronization (LoCo)</text>
<rect class="pl" x="890" y="1868" width="89" height="16" rx="8"/><text class="m p" x="934.5" y="1876" textLength="59">Click Start Synchronization</text>
<rect class="pl" x="1380.7" y="1868.5" width="56.8" height="16" rx="8"/><text class="m p" x="1409" y="1876.5" textLength="27">Click Cancel</text>
<rect class="pl" x="1259" y="2051.5" width="62" height="15.5" rx="7.7"/><text class="m p" x="1290" y="2059.3" textLength="32">Click View Log</text>
<rect class="pl" x="287" y="2099.5" width="91" height="15.5" rx="7.7"/><text class="m p" x="333" y="2107.3" textLength="62">Click On The My Products Tab</text>
<rect class="pl" x="291.4" y="2851" width="85.6" height="16" rx="8"/><text class="m p" x="334" y="2859" textLength="56.4">Click On The Activity Tab</text>
</g>

<!-- Arrowheads -->
<use href="#ah" x="1100.5" y="618"/><use href="#ah" x="1398.5" y="618"/><use href="#ah" x="1100.5" y="1093"/><use href="#ah" x="1398.5" y="1093"/><use href="#ah" x="1697.5" y="1093"/>
<use href="#am" x="26.5" y="1538"/><use href="#am" x="203" y="1538"/><use href="#am" x="429.5" y="1538"/><use href="#am" x="632" y="1538"/><use href="#am" x="915.5" y="1539"/><use href="#am" x="1152" y="1539"/>
<use href="#am" x="396.5" y="707"/><use href="#am" x="396.5" y="1167"/><use href="#am" x="396" y="2107"/><use href="#am" x="396" y="2859"/>
<use href="#am" x="746.5" y="1876"/><use href="#am" x="996" y="1876"/><use href="#am" x="1225" y="1877"/><use href="#am" x="1491.5" y="1876"/>
<path class="chm" d="M1283 2102L1287 2106L1291 2102"/>
<!-- Start dots -->
<g fill="#0e5c62"><circle cx="784" cy="856" r="2"/><circle cx="1284" cy="618" r="2"/><circle cx="1582" cy="618" r="2"/><circle cx="1284" cy="1093" r="2"/><circle cx="1582" cy="1093" r="2"/><circle cx="1880" cy="1093" r="2"/></g>
<g fill="#5f8f92"><circle cx="151.5" cy="1538" r="1.6"/><circle cx="327" cy="1538" r="1.6"/><circle cx="555" cy="1538" r="1.6"/><circle cx="1039" cy="1539" r="1.6"/><circle cx="265" cy="1403" r="1.6"/><circle cx="265" cy="1673" r="1.6"/><circle cx="521" cy="2047" r="1.6"/><circle cx="871.5" cy="1876" r="1.6"/><circle cx="1120.6" cy="1877" r="1.6"/><circle cx="1349.5" cy="1877" r="1.6"/><circle cx="1287" cy="2010" r="1.6"/></g>
</svg>
</body></html>
